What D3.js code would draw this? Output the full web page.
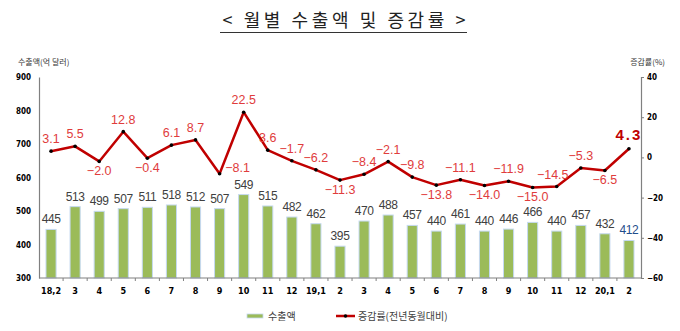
<!DOCTYPE html>
<html><head><meta charset="utf-8">
<script src="https://cdn.jsdelivr.net/npm/d3@7"></script>
<style>
body{margin:0;background:#fff;}
svg{display:block;font-family:"Liberation Sans","Noto Sans CJK KR",sans-serif;}
</style></head>
<body><svg id="c" width="680" height="331"></svg>
<script>
const categories = ["18,2","3","4","5","6","7","8","9","10","11","12","19,1","2","3","4","5","6","7","8","9","10","11","12","20,1","2"];
const exportsVal = [445,513,499,507,511,518,512,507,549,515,482,462,395,470,488,457,440,461,440,446,466,440,457,432,412];
const growth = [3.1,5.5,-2.0,12.8,-0.4,6.1,8.7,-8.1,22.5,3.6,-1.7,-6.2,-11.3,-8.4,-2.1,-9.8,-13.8,-11.1,-14.0,-11.9,-15.0,-14.5,-5.3,-6.5,4.3];
const leftTicks = [300,400,500,600,700,800,900];
const rightTicks = [-60,-40,-20,0,20,40];
// label placement: 'a' above, 'b' below, 'r' right
const growthLabelPos = ["a","a","b","a","b","a","a","r","a","a","a","a","b","a","a","a","b","a","b","a","b","a","a","b","a"];

const svg = d3.select("#c");
const x0 = 39, x1 = 641, yTop = 77, yBot = 278;

const x = d3.scaleBand().domain(d3.range(categories.length)).range([x0, x1]).paddingInner(0.58).paddingOuter(0.29);
const yL = d3.scaleLinear().domain([300, 900]).range([yBot, yTop]);
const yR = d3.scaleLinear().domain([-60, 40]).range([yBot, yTop]);
const xc = i => x(i) + x.bandwidth() / 2;
const fmt = v => (v < 0 ? "\u2212" : "") + Math.abs(v).toFixed(1);

// Title
svg.append("text").attr("x", 344).attr("y", 27).attr("text-anchor", "middle")
  .attr("font-family", "'Noto Sans CJK KR',sans-serif").attr("font-size", 18).attr("fill", "#222")
  .attr("textLength", 243).attr("lengthAdjust", "spacing")
  .text("< 월별 수출액 및 증감률 >");
svg.append("line").attr("x1", 220).attr("x2", 467).attr("y1", 32.5).attr("y2", 32.5).attr("stroke", "#333").attr("stroke-width", 1);

// Axis titles
svg.append("text").attr("x", 18).attr("y", 65).attr("font-family", "'Noto Sans CJK KR',sans-serif")
  .attr("font-size", 8).attr("fill", "#333").text("수출액(억 달러)");
svg.append("text").attr("x", 665).attr("y", 65).attr("text-anchor", "end").attr("font-family", "'Noto Sans CJK KR',sans-serif")
  .attr("font-size", 8).attr("fill", "#333").text("증감률(%)");

// Bars
svg.append("g").selectAll("rect").data(exportsVal).join("rect")
  .attr("x", (d, i) => x(i)).attr("width", x.bandwidth())
  .attr("y", d => yL(d)).attr("height", d => yBot - yL(d))
  .attr("fill", "#9bbb59").attr("stroke", "#c5d9f1").attr("stroke-width", 1);

// Axes
const axisColor = "#808080";
const gL = svg.append("g").attr("transform", `translate(${x0},0)`)
  .call(d3.axisLeft(yL).tickValues(leftTicks).tickSize(0).tickPadding(8));
const gR = svg.append("g").attr("transform", `translate(${x1},0)`)
  .call(d3.axisRight(yR).tickValues(rightTicks).tickSize(3).tickPadding(3).tickFormat(v => (v < 0 ? "\u2212" : "") + Math.abs(v)));
[gL, gR].forEach(g => {
  g.select(".domain").attr("stroke", axisColor).attr("stroke-width", 1.2);
  g.selectAll(".tick line").attr("stroke", axisColor);
  g.selectAll("text").attr("font-size", 8).attr("font-weight", "bold").attr("fill", "#000").attr("font-family", "'DejaVu Sans Condensed','Liberation Sans',sans-serif");
});
gR.selectAll(".tick text").attr("text-anchor", "start");

// X axis
svg.append("line").attr("x1", x0).attr("x2", x1).attr("y1", yBot).attr("y2", yBot).attr("stroke", axisColor).attr("stroke-width", 1.2);
const step = x.step();
svg.append("g").selectAll("line").data(d3.range(1, categories.length)).join("line")
  .attr("x1", i => x(i) - x.paddingInner() * step / 2).attr("x2", i => x(i) - x.paddingInner() * step / 2)
  .attr("y1", yBot).attr("y2", yBot + 3).attr("stroke", axisColor);
svg.append("g").selectAll("text").data(categories).join("text")
  .attr("x", (d, i) => xc(i)).attr("y", 294).attr("text-anchor", "middle")
  .attr("font-size", 9).attr("font-weight", "bold").attr("fill", "#000")
  .attr("font-family", "'DejaVu Sans Condensed','Liberation Sans',sans-serif")
  .text(d => d);

// Bar labels
svg.append("g").selectAll("text").data(exportsVal).join("text")
  .attr("x", (d, i) => xc(i)).attr("y", d => yL(d) - 6).attr("text-anchor", "middle")
  .attr("font-size", 12).attr("letter-spacing", -0.4)
  .attr("fill", (d, i) => i === exportsVal.length - 1 ? "#1f4e8c" : "#404040")
  .text(d => d);

// Line
const line = d3.line().x((d, i) => xc(i)).y(d => yR(d));
svg.append("path").datum(growth).attr("d", line).attr("fill", "none")
  .attr("stroke", "#c00000").attr("stroke-width", 2.5).attr("stroke-linejoin", "round");
svg.append("g").selectAll("circle").data(growth).join("circle")
  .attr("cx", (d, i) => xc(i)).attr("cy", d => yR(d)).attr("r", 1.8).attr("fill", "#000");

// Growth labels
svg.append("g").selectAll("text").data(growth).join("text")
  .attr("x", (d, i) => growthLabelPos[i] === "r" ? xc(i) + 18 : (i === 21 ? xc(i) - 4 : xc(i)))
  .attr("y", (d, i) => {
    const p = growthLabelPos[i];
    if (i === growth.length - 1) return yR(d) - 9;
    if (p === "a") return yR(d) - 8;
    if (p === "b") return yR(d) + 13.5;
    return yR(d) - 2;
  })
  .attr("text-anchor", "middle")
  .attr("font-size", (d, i) => i === growth.length - 1 ? 15 : 12.5)
  .attr("font-weight", (d, i) => i === growth.length - 1 ? "bold" : "normal")
  .attr("letter-spacing", (d, i) => i === growth.length - 1 ? 2 : 0)
  .attr("fill", (d, i) => i === growth.length - 1 ? "#c00000" : "#e03c3c")
  .text(d => fmt(d));

// Legend
svg.append("rect").attr("x", 247).attr("y", 314).attr("width", 16).attr("height", 4).attr("fill", "#9bbb59").attr("stroke", "#c5d9f1").attr("stroke-width", 0.8);
svg.append("text").attr("x", 268).attr("y", 320).attr("font-family", "'Noto Sans CJK KR',sans-serif")
  .attr("font-size", 10).attr("fill", "#404040").text("수출액");
svg.append("line").attr("x1", 336).attr("x2", 355).attr("y1", 316).attr("y2", 316).attr("stroke", "#c00000").attr("stroke-width", 2.5);
svg.append("circle").attr("cx", 345.5).attr("cy", 316).attr("r", 1.8).attr("fill", "#000");
svg.append("text").attr("x", 358).attr("y", 320).attr("font-family", "'Noto Sans CJK KR',sans-serif")
  .attr("font-size", 10).attr("fill", "#404040").text("증감률(전년동월대비)");
</script></body></html>
